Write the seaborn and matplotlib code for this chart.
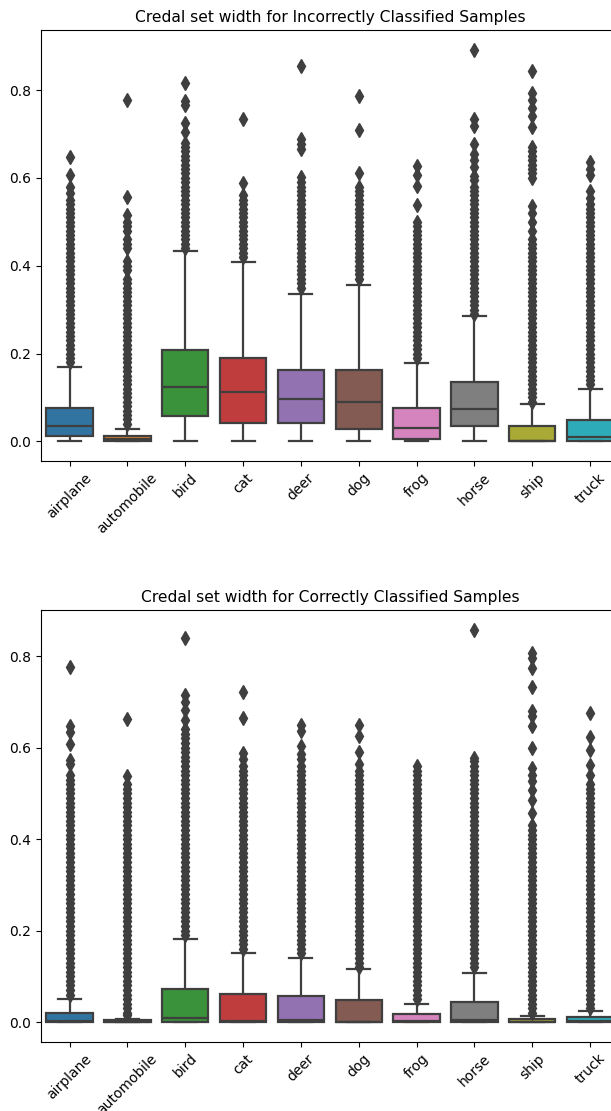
import numpy as np
import pandas as pd
import matplotlib
matplotlib.use("Agg")
import matplotlib.pyplot as plt
import seaborn as sns

categories = ["airplane", "automobile", "bird", "cat", "deer",
              "dog", "frog", "horse", "ship", "truck"]

titles = ["Credal set width for Incorrectly Classified Samples",
          "Credal set width for Correctly Classified Samples"]

# ---- Incorrectly classified: box statistics ----
inc_lo = [0.0, 0.0, 0.0, 0.0, 0.0, 0.0, 0.0, 0.0, 0.0, 0.0]
inc_q1 = [0.0114, 0.0, 0.0585, 0.043, 0.043, 0.029, 0.0055, 0.034, 0.0, 0.0]
inc_med = [0.034, 0.005, 0.125, 0.1125, 0.0965, 0.0887, 0.0305, 0.0738, 0.0, 0.010]
inc_q3 = [0.076, 0.013, 0.209, 0.1895, 0.1617, 0.1617, 0.075, 0.135, 0.035, 0.049]
inc_hi = [0.169, 0.028, 0.433, 0.408, 0.336, 0.357, 0.178, 0.285, 0.086, 0.120]

# outliers, in hundredths of width
inc_out_airplane = [18, 19, 20, 21, 22, 23, 24, 25, 26, 27, 28, 29, 30, 31, 32, 33, 34, 35, 36, 37, 38, 39, 40, 41, 42, 43, 44, 45, 46, 47, 48, 49, 50, 51, 52, 53, 54, 55, 56.5, 58, 60.7, 64.8]
inc_out_automobile = [4, 5, 6, 7, 8, 9, 10, 11, 12, 13, 14, 15, 16, 17, 18, 19, 20, 21, 22, 23, 24, 25, 26, 27, 28, 29, 30, 31, 32, 33, 34, 35, 36, 37, 39, 40, 41, 44, 45, 46, 48, 49, 50, 51.5, 55.6, 77.8]
inc_out_bird = [44, 45, 46, 47, 48, 49, 50, 51, 52, 53, 54, 55, 56, 57, 58, 59, 60, 61, 62, 63, 64, 65, 66, 67, 68, 70.5, 72.5, 76.5, 77.5, 81.5]
inc_out_cat = [42, 43, 44, 45, 46, 47, 48, 49, 50, 51, 52, 53, 54, 55, 56, 58.8, 73.5]
inc_out_deer = [35, 36, 37, 38, 39, 40, 41, 42, 43, 44, 45, 46, 47, 48, 49, 50, 51, 52, 53, 54, 55, 56, 57, 58, 59, 60.2, 66.6, 67.7, 68.9, 85.5]
inc_out_dog = [37, 38, 39, 40, 41, 42, 43, 44, 45, 46, 47, 48, 49, 50, 51, 52, 53, 54, 55, 56, 57, 58, 61.1, 70.8, 78.6]
inc_out_frog = [19, 20, 21, 22, 23, 24, 25, 26, 27, 28, 29, 30, 31, 32, 33, 34, 35, 36, 37, 38, 39, 40, 41, 42, 43, 44, 45, 46, 47, 48, 49, 50, 53.9, 58.2, 60.7, 62.8]
inc_out_horse = [29, 30, 31, 32, 33, 34, 35, 36, 37, 38, 39, 40, 41, 42, 43, 44, 45, 46, 47, 48, 49, 50, 51, 52, 53, 54, 55, 56, 57, 58, 59.5, 60.5, 62.5, 64, 65.5, 67.6, 71.7, 73.3, 89.2]
inc_out_ship = [9, 10, 11, 12, 13, 14, 15, 16, 17, 18, 19, 20, 21, 22, 23, 24, 25, 26, 27, 28, 29, 30, 31, 32, 33, 34, 35, 36, 37, 38, 39, 40, 41, 42, 43, 44, 45, 46, 48, 50, 52, 53.5, 60, 61, 62, 63, 64, 65, 66, 67, 71.6, 74, 75.9, 77.8, 79.4, 84.3]
inc_out_truck = [13, 14, 15, 16, 17, 18, 19, 20, 21, 22, 23, 24, 25, 26, 27, 28, 29, 30, 31, 32, 33, 34, 35, 36, 37, 38, 39, 40, 41, 42, 43, 44, 45, 46, 47, 48, 49, 50, 51, 52, 53, 54, 55.5, 57, 60.7, 62, 63.5]

# ---- Correctly classified: box statistics ----
cor_lo = [0.0, 0.0, 0.0, 0.0, 0.0, 0.0, 0.0, 0.0, 0.0, 0.0]
cor_q1 = [0.0, 0.0, 0.0, 0.0, 0.0, 0.0, 0.0, 0.0, 0.0, 0.0]
cor_med = [0.003, 0.001, 0.008, 0.002, 0.005, 0.001, 0.002, 0.005, 0.001, 0.003]
cor_q3 = [0.0206, 0.005, 0.073, 0.061, 0.0563, 0.0476, 0.017, 0.044, 0.007, 0.011]
cor_hi = [0.0497, 0.006, 0.182, 0.151, 0.140, 0.1155, 0.0388, 0.107, 0.0125, 0.0235]

cor_out_airplane = [6, 7, 8, 9, 10, 11, 12, 13, 14, 15, 16, 17, 18, 19, 20, 21, 22, 23, 24, 25, 26, 27, 28, 29, 30, 31, 32, 33, 34, 35, 36, 37, 38, 39, 40, 41, 42, 43, 44, 45, 46, 47, 48, 49, 50, 51, 52, 53, 54, 56.5, 57.4, 60.9, 63.5, 64.8, 77.7]
cor_out_automobile = [1.5, 2, 3, 4, 5, 6, 7, 8, 9, 10, 11, 12, 13, 14, 15, 16, 17, 18, 19, 20, 21, 22, 23, 24, 25, 26, 27, 28, 29, 30, 31, 32, 33, 34, 35, 36, 37, 38, 39, 40, 41, 42, 43, 44, 45, 46, 47, 48, 49, 50, 51, 52, 53.7, 66.3]
cor_out_bird = [19, 20, 21, 22, 23, 24, 25, 26, 27, 28, 29, 30, 31, 32, 33, 34, 35, 36, 37, 38, 39, 40, 41, 42, 43, 44, 45, 46, 47, 48, 49, 50, 51, 52, 53, 54, 55, 56, 57, 58, 59, 60, 61, 62, 63, 64, 66.1, 68.3, 70, 71.6, 84]
cor_out_cat = [16, 17, 18, 19, 20, 21, 22, 23, 24, 25, 26, 27, 28, 29, 30, 31, 32, 33, 34, 35, 36, 37, 38, 39, 40, 41, 42, 43, 44, 45, 46, 47, 48, 49, 50, 51, 52, 53, 54, 55, 56, 57.5, 58.8, 66.5, 72.1]
cor_out_deer = [15, 16, 17, 18, 19, 20, 21, 22, 23, 24, 25, 26, 27, 28, 29, 30, 31, 32, 33, 34, 35, 36, 37, 38, 39, 40, 41, 42, 43, 44, 45, 46, 47, 48, 49, 50, 51, 52, 53, 54, 55, 56, 57.5, 58.5, 60.3, 63.6, 65]
cor_out_dog = [12, 13, 14, 15, 16, 17, 18, 19, 20, 21, 22, 23, 24, 25, 26, 27, 28, 29, 30, 31, 32, 33, 34, 35, 36, 37, 38, 39, 40, 41, 42, 43, 44, 45, 46, 47, 48, 49, 50, 51, 52, 53, 54, 55, 56.5, 59, 62.5, 65]
cor_out_frog = [5, 6, 7, 8, 9, 10, 11, 12, 13, 14, 15, 16, 17, 18, 19, 20, 21, 22, 23, 24, 25, 26, 27, 28, 29, 30, 31, 32, 33, 34, 35, 36, 37, 38, 39, 40, 41, 42, 43, 44, 45, 46, 47, 48, 49, 50, 51, 52, 53, 54, 55, 56]
cor_out_horse = [12, 13, 14, 15, 16, 17, 18, 19, 20, 21, 22, 23, 24, 25, 26, 27, 28, 29, 30, 31, 32, 33, 34, 35, 36, 37, 38, 39, 40, 41, 42, 43, 44, 45, 46, 47, 48, 49, 50, 51, 52, 53, 54, 55, 56, 57, 57.8, 85.8]
cor_out_ship = [2, 3, 4, 5, 6, 7, 8, 9, 10, 11, 12, 13, 14, 15, 16, 17, 18, 19, 20, 21, 22, 23, 24, 25, 26, 27, 28, 29, 30, 31, 32, 33, 34, 35, 36, 37, 38, 39, 40, 41, 42, 43, 45.7, 48.6, 50.8, 52.6, 54, 55.5, 59.9, 64.7, 66.9, 67.9, 73.3, 77.5, 79.7, 80.7]
cor_out_truck = [3, 4, 5, 6, 7, 8, 9, 10, 11, 12, 13, 14, 15, 16, 17, 18, 19, 20, 21, 22, 23, 24, 25, 26, 27, 28, 29, 30, 31, 32, 33, 34, 35, 36, 37, 38, 39, 40, 41, 42, 43, 44, 45, 46, 47, 48, 49, 50, 51, 52, 54, 56.1, 59.4, 62.3, 67.6]

inc_out = [inc_out_airplane, inc_out_automobile, inc_out_bird, inc_out_cat, inc_out_deer,
           inc_out_dog, inc_out_frog, inc_out_horse, inc_out_ship, inc_out_truck]
cor_out = [cor_out_airplane, cor_out_automobile, cor_out_bird, cor_out_cat, cor_out_deer,
           cor_out_dog, cor_out_frog, cor_out_horse, cor_out_ship, cor_out_truck]


def sample_from_stats(lo, q1, med, q3, hi, out):
    """Build a sample whose quartiles/whiskers/outliers equal the read stats."""
    k = len(out)
    m = k + 2
    vals = [lo] * (k + 1) + [q1] * m + [med] * m + [q3] * m + [hi]
    vals += [v / 100.0 for v in out]
    return vals


def make_frame(lo, q1, med, q3, hi, outs):
    rows_c, rows_v = [], []
    for i, c in enumerate(categories):
        v = sample_from_stats(lo[i], q1[i], med[i], q3[i], hi[i], outs[i])
        rows_c += [c] * len(v)
        rows_v += v
    return pd.DataFrame({"cls": rows_c, "width": rows_v})


frames = [make_frame(inc_lo, inc_q1, inc_med, inc_q3, inc_hi, inc_out),
          make_frame(cor_lo, cor_q1, cor_med, cor_q3, cor_hi, cor_out)]

LINE = "#3f3f3f"
fig = plt.figure(figsize=(6.11, 11.11), dpi=100)
W, H = 611.0, 1111.0
ax_boxes = [
    [40.6 / W, 1 - 461 / H, 578.5 / W, 431 / H],
    [40.6 / W, 1 - 1041.7 / H, 578.5 / W, 431.7 / H],
]

for df, title, pos in zip(frames, titles, ax_boxes):
    ax = fig.add_axes(pos)
    sns.boxplot(data=df, x="cls", y="width", hue="cls", order=categories,
                hue_order=categories, palette="tab10", legend=False,
                linewidth=1.6, fliersize=7, linecolor=LINE,
                flierprops=dict(marker="d", markerfacecolor=LINE,
                                markeredgecolor=LINE),
                ax=ax)
    ax.set_title(title, fontsize=11.2)
    ax.set_xlabel("")
    ax.set_ylabel("")
    ax.tick_params(axis="x", rotation=45)

fig.savefig("out.png", dpi=100)
